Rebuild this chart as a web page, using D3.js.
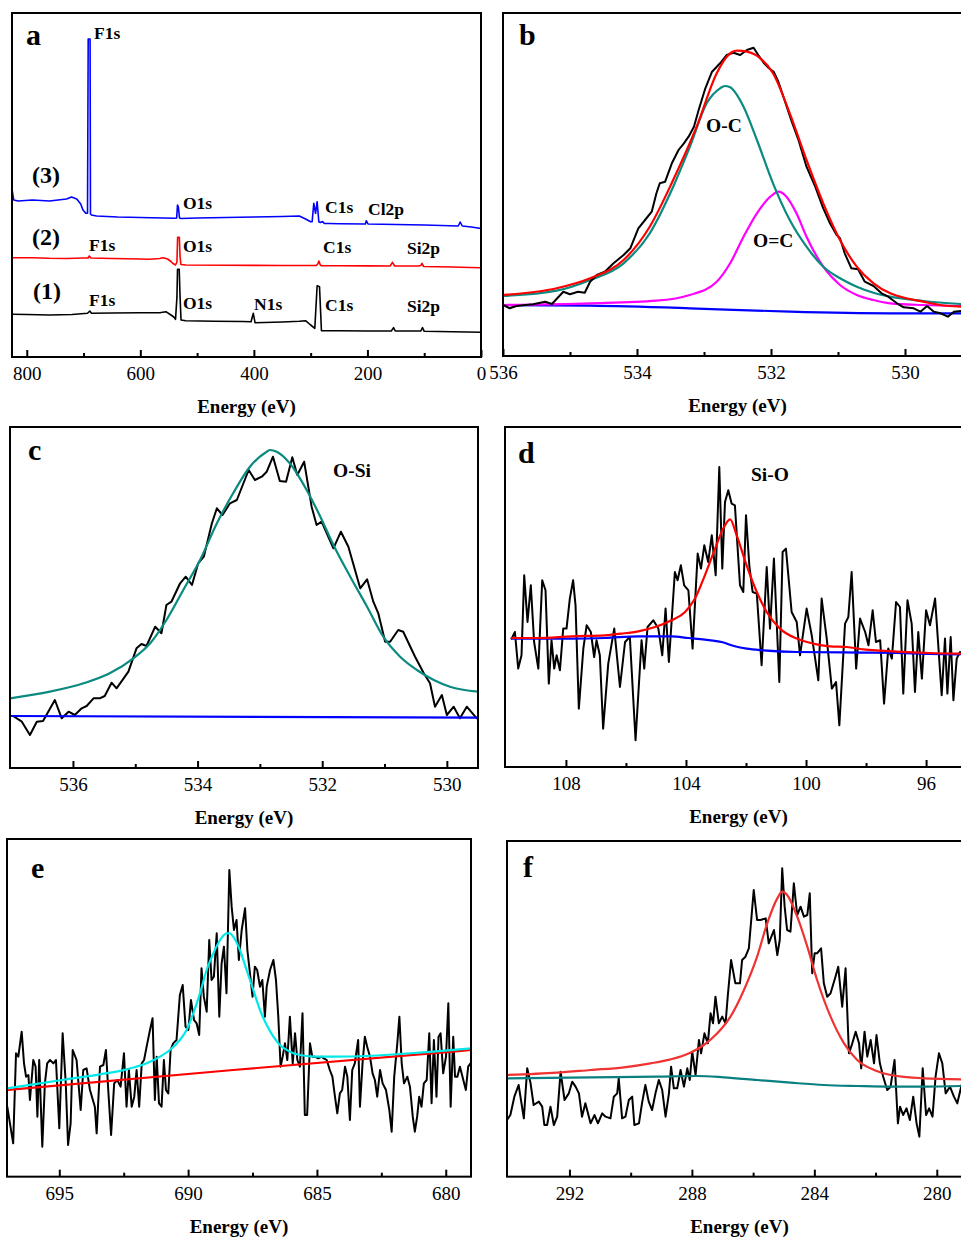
<!DOCTYPE html>
<html><head><meta charset="utf-8">
<script src="https://cdn.jsdelivr.net/npm/d3@7"></script>
<style>body{margin:0;background:#fff} svg{display:block}</style>
</head><body><svg id="chart" width="961" height="1237"></svg>
<script>
// ---------- DATA (energy in eV, intensity in arbitrary units) ----------
// Panel a: survey spectra
const aSurvey3 = [[826,168],[823,157],[815,156],[790,157],[760,156],[745,157],[730,158],[721,160],[712,158],[705,153],[701,147],[696,143.7],[693,143.7],[691.8,318],[688.5,318],[687.8,143],[686,142],[677,141],[640,140],[600,139.5],[560,139],[540,138.7],[536,139],[534.5,152],[533,150],[531,139],[528,138.5],[500,139],[450,139.5],[400,140],[350,140.5],[320,141],[309,138],[300,135.3],[297.4,135.3],[294.5,153.7],[291.4,143.7],[288.6,155.3],[285.6,135.3],[282.7,134.5],[279,135.5],[276,133.5],[268,133.5],[250,133.2],[203.7,133],[202,136.3],[199,133],[150,132.5],[100,132],[40,131],[36.7,135],[33,131],[17,130],[3,128.7],[0,128.7]];
const aSurvey2 = [[826,99.3],[790,99.3],[760,98.7],[730,98.5],[700,99],[692,99],[690,101],[687,99],[650,98.5],[600,98],[584,97.7],[566,98.5],[560,99.3],[555,98.5],[552,98],[546,95.5],[543,93.7],[538,92],[535.5,95],[534.3,119.7],[531.3,119.7],[530,100],[528.5,92.5],[520,92],[450,91.8],[400,91.6],[350,91.5],[300,91.5],[290,91.5],[287.5,93],[285.5,96],[283,92],[281,91.3],[250,91.2],[200,91.1],[160,91],[156,94.7],[152,91],[110,91],[106,91.5],[104,93.7],[101,90.5],[50,90],[20,89.5],[0,89.3]];
const aSurvey1 = [[826,42.7],[800,42.5],[760,42],[720,42.5],[693,43.7],[689,46],[686,43.7],[650,44],[600,44.2],[566,44.3],[555,45.3],[546,42],[541,40],[538,37.7],[535.5,60],[534.5,87.7],[531.5,87.7],[530,60],[528.3,37],[520,36.3],[470,35.8],[420,35.5],[405,35.3],[401,43.7],[398,34.3],[350,35],[320,35.8],[309,36.3],[300,32],[292.7,28.7],[288.6,71.3],[284.4,70.3],[281,26.3],[250,26.2],[200,26],[158,26],[154,29.3],[151,26],[106,26],[103,29.3],[100,25.7],[50,25.2],[0,24.7]];
const aMajor = [800,600,400,200,0];
const aMinor = [700,500,300,100];

// Panel b: O1s
const bRaw = [[536.0,51],[535.90,47.7],[535.80,50],[535.55,51.7],[535.37,54.3],[535.27,52],[535.10,64.3],[535.0,61.7],[534.88,64.3],[534.78,63.3],[534.70,74.3],[534.60,81],[534.48,84.3],[534.35,92.7],[534.20,101],[534.10,107.7],[533.98,127.7],[533.88,136],[533.78,144.3],[533.71,162.7],[533.66,172.7],[533.58,174.3],[533.48,192.7],[533.38,206],[533.30,212.7],[533.23,219.3],[533.15,229.3],[533.08,246],[532.98,267.7],[532.88,284.3],[532.76,292.7],[532.66,301],[532.56,303.3],[532.46,301],[532.36,306],[532.26,308.3],[532.19,301],[532.11,293.3],[532.03,287.7],[531.96,284.3],[531.89,274.3],[531.79,254.3],[531.69,234.3],[531.59,216],[531.47,189.3],[531.34,169.3],[531.22,147.7],[531.12,132.7],[531.02,121],[530.97,117.7],[530.90,102.7],[530.80,87.7],[530.70,86.7],[530.60,74.3],[530.47,70],[530.35,62.7],[530.25,59.3],[530.12,52.7],[530.02,48.7],[529.87,47.7],[529.77,44.3],[529.67,50],[529.57,44.3],[529.47,42.7],[529.36,39.3],[529.27,44.3],[529.16,45]];
const bEnvelope = [[536.0,61],[535.20,67.7],[534.70,77.7],[534.20,96],[533.81,129.3],[533.46,176],[533.11,229.3],[532.81,282.7],[532.66,299.3],[532.51,305.3],[532.36,304.3],[532.16,297.7],[531.97,282.7],[531.72,242.7],[531.47,196],[531.22,152.7],[530.97,116],[530.72,89.3],[530.47,72.7],[530.22,62.7],[529.98,57.7],[529.73,54.3],[529.48,51],[529.16,49.3]];
const bOC = [[536.0,60],[535.20,65.3],[534.70,76],[534.20,92.7],[533.81,122.7],[533.46,169.3],[533.21,209.3],[532.96,252.7],[532.76,267.7],[532.69,270],[532.61,268.7],[532.41,249.3],[532.21,216],[531.97,172.7],[531.72,136],[531.47,109.3],[531.22,89.3],[530.97,77.7],[530.72,69.3],[530.47,63.3],[530.22,59.3],[529.73,55],[529.16,52]];
const bODC = [[536.0,51],[534.70,52.7],[533.71,55.3],[533.21,61],[532.81,74.3],[532.61,92.7],[532.41,119.3],[532.21,142.7],[532.01,159.3],[531.89,164.3],[531.77,159.3],[531.62,142.7],[531.47,119.3],[531.22,89.3],[530.97,71],[530.72,61],[530.47,56],[530.22,52.7],[529.73,51],[529.16,50]];
const bBase = [[536.0,51],[534.70,50.3],[533.21,47.7],[531.72,44.3],[530.22,42.7],[529.16,42.7]];
const bMajor = [536,534,532,530];
const bMinor = [535,533,531];

// Panel c: O1s (O-Si)
const cRaw = [[536.96,52],[536.82,46.3],[536.69,33],[536.58,46.3],[536.48,47],[536.29,68],[536.18,49.7],[536.07,56.3],[535.97,53],[535.86,59.7],[535.78,62],[535.67,69.7],[535.57,69.7],[535.49,72],[535.38,85.3],[535.30,79.7],[535.11,96.3],[534.98,119.7],[534.90,124],[534.82,122],[534.68,141.3],[534.58,134.7],[534.50,163],[534.42,166.3],[534.28,184.7],[534.19,191.3],[534.09,183],[533.99,204.7],[533.90,211.3],[533.77,244.7],[533.69,259.7],[533.60,253],[533.48,264.7],[533.37,268],[533.18,298],[533.08,288],[532.97,291.3],[532.89,296.3],[532.79,311.3],[532.68,287],[532.58,286.3],[532.48,310.7],[532.40,293],[532.29,306.3],[532.17,261.3],[532.09,243],[532.01,246.3],[531.82,219.7],[531.70,236.3],[531.58,221.3],[531.39,179.7],[531.28,188.7],[531.18,166.3],[531.10,154.7],[530.99,126.3],[530.91,126.3],[530.78,138],[530.70,136.3],[530.51,111.3],[530.37,94.7],[530.27,84.7],[530.19,61.3],[530.08,73],[530.00,53],[529.89,61.3],[529.79,49.7],[529.68,61.3],[529.52,49.7]];
const cFit = [[537.01,69.7],[536.37,76.3],[535.83,84.7],[535.41,94.7],[535.03,109.7],[534.76,124.7],[534.50,148],[534.23,178],[533.96,208],[533.69,244.7],[533.43,274.7],[533.16,301.3],[532.89,316.3],[532.84,318],[532.73,316.3],[532.52,304.7],[532.25,278],[532.03,251.3],[531.82,223],[531.55,191.3],[531.28,161.3],[531.02,131.3],[530.75,111.3],[530.48,98],[530.21,88],[529.95,81.3],[529.49,76.3]];
const cBase = [[537.01,52],[529.49,50.3]];
const cMajor = [536,534,532,530];
const cMinor = [535,533,531];

// Panel d: Si2p
const dRaw = [[109.81,128.4],[109.70,135],[109.59,98.4],[109.48,111.7],[109.39,191.7],[109.28,145],[109.17,181.7],[109.06,125],[108.92,98.4],[108.79,186.7],[108.68,176.7],[108.57,83.4],[108.48,126.7],[108.39,98.4],[108.31,111.7],[108.20,96.7],[108.09,138.4],[107.98,138.4],[107.87,168.4],[107.76,186.7],[107.68,161.7],[107.57,58.4],[107.42,118.4],[107.31,141.7],[107.17,135],[107.06,110],[106.98,126.7],[106.87,111.7],[106.76,38.4],[106.59,103.4],[106.39,138.4],[106.20,80],[106.03,125],[105.87,130],[105.68,26.7],[105.48,126.7],[105.39,98.4],[105.28,140],[105.09,146.7],[104.92,138.4],[104.79,111.7],[104.68,158.4],[104.57,105],[104.48,145],[104.37,195],[104.28,186.7],[104.17,201.7],[104.06,181.7],[103.92,176.7],[103.78,118.4],[103.61,213.4],[103.50,198.4],[103.39,221.7],[103.26,205],[103.14,231.7],[103.01,191.7],[102.89,300],[102.79,198.4],[102.70,265],[102.59,276.7],[102.48,263.4],[102.37,261.7],[102.20,181.7],[102.09,175],[102.00,251.7],[101.89,201.7],[101.78,175],[101.64,173.4],[101.48,101.7],[101.31,200],[101.20,138.4],[101.07,208.4],[100.89,85],[100.78,215],[100.67,218.4],[100.48,155],[100.31,145],[100.20,111.7],[99.98,158.4],[99.81,131.7],[99.59,86.7],[99.48,168.4],[99.31,128.4],[99.14,78.4],[99.00,85],[98.89,41.7],[98.70,143.4],[98.59,150],[98.48,195],[98.33,98.4],[98.20,148.4],[98.03,135],[97.92,121.7],[97.78,156.7],[97.67,125],[97.53,126.7],[97.40,63.4],[97.26,118.4],[97.14,108.4],[97.00,165],[96.87,160],[96.76,73.4],[96.62,166.7],[96.48,143.4],[96.37,75],[96.26,135],[96.14,88.4],[96.00,156.7],[95.87,141.7],[95.70,168.4],[95.48,71.7],[95.37,128.4],[95.29,73.4],[95.18,130],[95.09,66.7],[94.98,108.4],[94.87,115]];
const dFit = [[109.81,129],[108.92,129],[107.81,130.7],[106.70,131.7],[106.14,133.4],[105.59,135.7],[105.03,140],[104.48,146.7],[104.03,155],[103.70,168.4],[103.37,191.7],[103.03,218.4],[102.76,238.4],[102.53,247.7],[102.31,231.7],[101.98,201.7],[101.64,175],[101.31,155],[100.87,138.4],[100.31,128.4],[99.76,123.4],[99.20,120.7],[98.64,120],[98.09,117.7],[97.53,116.4],[96.98,115.4],[95.87,114],[94.87,113.4]];
const dBase = [[109.81,128.4],[107.81,128.4],[106.70,129],[105.59,130.7],[104.48,130.7],[103.92,129],[103.37,127.4],[102.81,125],[102.37,120.7],[101.98,118.4],[101.42,116.7],[100.31,115],[98.09,114.4],[96.98,114],[95.87,113],[94.87,112.7]];
const dMajor = [108,104,100,96];
const dMinor = [106,102,98];

// Panel e: F1s
const eRaw = [[697.02,210],[696.79,100],[696.68,370],[696.59,360],[696.46,435],[696.37,340],[696.29,300],[696.20,305],[696.14,230],[696.01,350],[695.92,330],[695.85,180],[695.78,350],[695.66,90],[695.56,280],[695.47,340],[695.36,350],[695.23,340],[695.13,350],[695.00,145],[694.87,430],[694.75,280],[694.66,95],[694.56,160],[694.48,380],[694.33,350],[694.17,200],[694.07,320],[693.94,325],[693.81,260],[693.62,210],[693.55,130],[693.42,330],[693.29,335],[693.19,380],[693.10,260],[692.99,125],[692.87,280],[692.75,290],[692.62,270],[692.49,370],[692.39,210],[692.30,320],[692.19,210],[692.09,240],[692.00,320],[691.90,210],[691.80,340],[691.71,350],[691.61,390],[691.48,440],[691.38,475],[691.29,230],[691.22,360],[691.13,220],[691.03,210],[690.94,350],[690.86,260],[690.77,250],[690.68,380],[690.58,400],[690.45,410],[690.32,545],[690.21,575],[690.10,450],[689.99,440],[689.89,530],[689.77,470],[689.67,460],[689.57,425],[689.48,625],[689.39,540],[689.28,495],[689.18,710],[689.09,590],[689.00,600],[688.89,730],[688.79,480],[688.70,640],[688.61,690],[688.51,550],[688.40,920],[688.31,810],[688.22,740],[688.12,770],[688.03,650],[687.92,740],[687.79,805],[687.70,680],[687.60,610],[687.50,540],[687.41,630],[687.32,620],[687.21,570],[687.12,590],[687.02,480],[686.95,570],[686.82,620],[686.69,650],[686.59,590],[686.50,480],[686.41,330],[686.33,360],[686.24,400],[686.15,350],[686.05,480],[685.94,340],[685.85,430],[685.76,350],[685.66,330],[685.56,490],[685.47,185],[685.38,185],[685.27,400],[685.18,360],[685.08,360],[684.95,355],[684.82,360],[684.73,355],[684.62,350],[684.50,320],[684.40,300],[684.30,240],[684.21,190],[684.11,250],[684.02,260],[683.91,330],[683.82,300],[683.72,170],[683.63,320],[683.53,340],[683.40,410],[683.33,210],[683.23,340],[683.14,420],[683.05,390],[682.94,360],[682.84,310],[682.75,290],[682.66,240],[682.55,320],[682.45,280],[682.32,260],[682.19,200],[682.10,135],[682.00,300],[681.88,400],[681.80,480],[681.71,340],[681.62,280],[681.49,300],[681.39,270],[681.28,180],[681.20,135],[681.11,180],[681.03,240],[680.94,210],[680.85,280],[680.74,290],[680.64,430],[680.55,220],[680.46,410],[680.36,240],[680.28,420],[680.20,430],[680.10,310],[679.99,360],[679.90,520],[679.81,210],[679.71,420],[679.64,300],[679.55,300],[679.45,330],[679.35,300],[679.22,260],[679.13,330],[679.04,340]];
const eFit = [[697.02,265],[696.01,277],[694.72,292],[693.42,307],[692.39,322],[691.61,340],[691.09,360],[690.71,380],[690.32,410],[690.06,440],[689.80,490],[689.54,550],[689.28,620],[689.02,670],[688.76,710],[688.51,730],[688.38,730],[688.25,720],[687.99,680],[687.73,620],[687.47,560],[687.21,500],[686.95,455],[686.69,420],[686.44,395],[686.05,375],[685.66,365],[685.01,360],[684.37,360],[683.07,362],[681.78,368],[680.49,375],[679.02,385]];
const eBase = [[697.02,260],[688.25,320],[679.02,380]];
const eMajor = [695,690,685,680];
const eMinor = [692.5,687.5,682.5];

// Panel f: C1s
const fRaw = [[294.04,170],[293.93,185],[293.80,240],[293.66,275],[293.49,175],[293.38,325],[293.27,280],[293.17,215],[293.00,225],[292.89,210],[292.82,155],[292.73,155],[292.62,210],[292.51,155],[292.40,180],[292.29,315],[292.16,230],[292.02,250],[291.91,285],[291.80,270],[291.69,250],[291.59,180],[291.48,220],[291.31,160],[291.18,185],[291.07,160],[290.93,190],[290.82,180],[290.66,175],[290.55,240],[290.44,250],[290.39,295],[290.28,175],[290.17,180],[290.06,230],[289.95,240],[289.88,155],[289.73,160],[289.63,220],[289.52,275],[289.41,225],[289.30,200],[289.19,250],[289.08,290],[288.97,260],[288.86,180],[288.75,250],[288.68,330],[288.59,265],[288.48,265],[288.37,320],[288.26,270],[288.15,325],[288.07,290],[287.99,375],[287.88,305],[287.77,410],[287.70,370],[287.59,430],[287.48,400],[287.39,490],[287.31,460],[287.23,540],[287.12,460],[287.01,480],[286.90,460],[286.83,540],[286.72,650],[286.58,580],[286.43,580],[286.36,650],[286.25,660],[286.14,685],[285.98,860],[285.87,770],[285.76,770],[285.59,775],[285.49,700],[285.32,740],[285.21,665],[285.13,710],[285.05,925],[284.97,810],[284.89,740],[284.78,735],[284.67,880],[284.56,785],[284.45,810],[284.34,780],[284.23,785],[284.15,850],[284.07,610],[283.99,670],[283.91,670],[283.78,685],[283.69,580],[283.58,540],[283.47,550],[283.31,600],[283.22,630],[283.09,510],[282.98,625],[282.87,370],[282.76,400],[282.65,435],[282.54,400],[282.47,325],[282.36,435],[282.27,360],[282.16,410],[282.05,340],[281.97,425],[281.86,340],[281.75,300],[281.62,260],[281.51,270],[281.38,350],[281.27,160],[281.20,210],[281.10,185],[280.99,205],[280.88,170],[280.77,240],[280.66,160],[280.57,120],[280.46,325],[280.35,185],[280.25,205],[280.14,180],[280.04,300],[279.93,370],[279.82,340],[279.71,250],[279.57,270],[279.44,240],[279.33,220],[279.19,275]];
const fFit = [[294.04,305],[292.40,312],[291.31,320],[290.22,328],[289.35,340],[288.70,352],[288.05,372],[287.61,395],[287.17,430],[286.74,480],[286.30,560],[285.87,660],[285.54,760],[285.21,835],[285.05,855],[284.89,845],[284.56,780],[284.23,690],[283.91,590],[283.47,480],[283.03,400],[282.60,350],[282.05,320],[281.51,305],[280.42,295],[279.19,292]];
const fBase = [[294.04,295],[291.31,298],[289.14,300],[287.83,302],[286.96,298],[285.87,290],[284.78,282],[283.69,275],[282.60,272],[281.51,270],[280.42,270],[279.19,272]];
const fMajor = [292,288,284,280];
const fMinor = [290,286,282];

// ---------- DRAWING ----------
const FONT = '"Liberation Serif","Times New Roman",Times,serif';
const svg = d3.select("#chart");
svg.append("rect").attr("width",961).attr("height",1237).attr("fill","#fff");

function panel(cfg) {
  const g = svg.append("g");
  const x = d3.scaleLinear().domain(cfg.xDomain).range([cfg.x0, cfg.x1]);
  const y = d3.scaleLinear().domain(cfg.yDomain).range([cfg.y1, cfg.y0]);
  const clipId = "clip-" + cfg.key;
  svg.append("clipPath").attr("id", clipId).append("rect")
    .attr("x", cfg.x0).attr("y", cfg.y0).attr("width", cfg.x1 - cfg.x0).attr("height", cfg.y1 - cfg.y0);
  const lg = g.append("g").attr("clip-path", `url(#${clipId})`);
  cfg.series.forEach(s => {
    lg.append("path").datum(s.data)
      .attr("fill", "none").attr("stroke", s.color).attr("stroke-width", s.w)
      .attr("stroke-linejoin", "round").attr("stroke-linecap", "round")
      .attr("d", d3.line().x(d => x(d[0])).y(d => y(d[1]))
        .curve(s.smooth ? d3.curveMonotoneX : d3.curveLinear));
  });
  // major ticks + labels
  const ax = g.append("g").attr("transform", `translate(0,${cfg.y1})`)
    .call(d3.axisBottom(x).tickValues(cfg.major).tickSize(-7).tickPadding(10).tickFormat(d3.format("d")));
  ax.select(".domain").remove();
  ax.selectAll(".tick line").attr("stroke", "#000").attr("stroke-width", 2);
  ax.selectAll(".tick text").attr("font-family", FONT).attr("font-size", 19).attr("fill", "#000");
  // minor ticks
  const mx = g.append("g").attr("transform", `translate(0,${cfg.y1})`)
    .call(d3.axisBottom(x).tickValues(cfg.minor).tickSize(-4).tickFormat(""));
  mx.select(".domain").remove();
  mx.selectAll(".tick line").attr("stroke", "#000").attr("stroke-width", 2);
  // frame
  g.append("rect").attr("x", cfg.x0).attr("y", cfg.y0)
    .attr("width", cfg.x1 - cfg.x0).attr("height", cfg.y1 - cfg.y0)
    .attr("fill", "none").attr("stroke", "#000").attr("stroke-width", 2);
  // axis title
  g.append("text").attr("x", (cfg.x0 + cfg.x1) / 2).attr("y", cfg.y1 + 56)
    .attr("text-anchor", "middle").attr("font-family", FONT).attr("font-weight", "bold")
    .attr("font-size", 19).text("Energy (eV)");
  // panel letter
  g.append("text").attr("x", cfg.letterPos[0]).attr("y", cfg.letterPos[1])
    .attr("font-family", FONT).attr("font-weight", "bold").attr("font-size", 30).text(cfg.letter);
  // annotations
  (cfg.notes || []).forEach(n => {
    g.append("text").attr("x", n[1]).attr("y", n[2])
      .attr("font-family", FONT).attr("font-weight", "bold").attr("font-size", n[3]).text(n[0]);
  });
}

panel({key:"a", x0:12, x1:481, y0:13, y1:357, xDomain:[826,0], yDomain:[0,344],
  major:aMajor, minor:aMinor, letter:"a", letterPos:[26,45],
  series:[
    {data:aSurvey1, color:"#000", w:1.6},
    {data:aSurvey2, color:"#ff0000", w:1.6},
    {data:aSurvey3, color:"#0000ff", w:1.6}],
  notes:[["F1s",94,39,17.5],["(3)",32,183,24],["(2)",32,245,24],["(1)",33,299,24],
    ["O1s",183,209,17.5],["C1s",325,213,17.5],["Cl2p",368,215,17.5],
    ["F1s",89,251,17.5],["O1s",183,252,17.5],["C1s",323,253,17.5],["Si2p",407,253.5,17.5],
    ["F1s",89,306,17.5],["O1s",183,309,17.5],["N1s",254,310,17.5],["C1s",325,310.5,17.5],["Si2p",407,312,17.5]]
});

panel({key:"b", x0:503, x1:972, y0:13, y1:356, xDomain:[536,529.0], yDomain:[0,343],
  major:bMajor, minor:bMinor, letter:"b", letterPos:[519,45],
  series:[
    {data:bBase, color:"#0000ff", w:2.2, smooth:true},
    {data:bODC, color:"#ff00ff", w:2.2, smooth:true},
    {data:bOC, color:"#0a8a80", w:2.2, smooth:true},
    {data:bRaw, color:"#000", w:2},
    {data:bEnvelope, color:"#ff0000", w:2.2, smooth:true}],
  notes:[["O-C",706,132,19.5],["O=C",753,246.5,19.5]]
});

panel({key:"c", x0:10, x1:478, y0:427, y1:768, xDomain:[537.01,529.50], yDomain:[0,341],
  major:cMajor, minor:cMinor, letter:"c", letterPos:[28,460],
  series:[
    {data:cRaw, color:"#000", w:2},
    {data:cBase, color:"#0000ff", w:2.2},
    {data:cFit, color:"#0a8a80", w:2.2, smooth:true}],
  notes:[["O-Si",333,476.5,19.5]]
});

panel({key:"d", x0:505, x1:972, y0:427, y1:767, xDomain:[110.03,94.47], yDomain:[0,340],
  major:dMajor, minor:dMinor, letter:"d", letterPos:[518,462.5],
  series:[
    {data:dRaw, color:"#000", w:2},
    {data:dBase, color:"#0000ff", w:2.2, smooth:true},
    {data:dFit, color:"#ff0000", w:2.2, smooth:true}],
  notes:[["Si-O",751,480.5,19.5]]
});

panel({key:"e", x0:7, x1:471, y0:839, y1:1176.67, xDomain:[697.03,679.02], yDomain:[0,1013],
  major:eMajor, minor:eMinor, letter:"e", letterPos:[31,878],
  series:[
    {data:eRaw, color:"#000", w:2},
    {data:eBase, color:"#ff0000", w:2.2, smooth:true},
    {data:eFit, color:"#00e8e8", w:2.2, smooth:true}],
  notes:[]
});

panel({key:"f", x0:507, x1:972, y0:841, y1:1176.67, xDomain:[294.04,278.85], yDomain:[0,1007],
  major:fMajor, minor:fMinor, letter:"f", letterPos:[523,876.5],
  series:[
    {data:fRaw, color:"#000", w:2},
    {data:fBase, color:"#0a7f7f", w:2.2, smooth:true},
    {data:fFit, color:"#f03232", w:2.2, smooth:true}],
  notes:[]
});
</script>
</body></html>
